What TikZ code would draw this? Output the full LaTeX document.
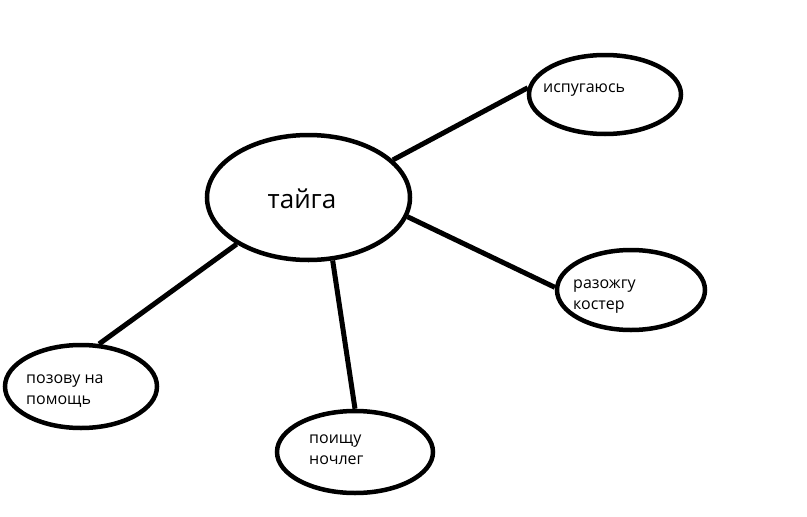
\documentclass[tikz,border=0pt]{standalone}
\usepackage{fontspec}
\setmainfont{Open Sans}
\usetikzlibrary{shapes.geometric}
\begin{document}
\begin{tikzpicture}[x=1pt,y=-1pt,
  bubble/.style={draw=black,line width=4.5pt,ellipse,inner sep=0pt,fill=white},
  conn/.style={draw=black,line width=5pt},
  lbl/.style={inner sep=0pt,anchor=base west,align=left,font=\fontsize{16}{21}\selectfont},
  big/.style={inner sep=0pt,font=\fontsize{26}{30}\selectfont}]
\useasboundingbox[fill=white] (0,0) rectangle (807,517);
\node[bubble,minimum width=203pt,minimum height=125pt] (taiga) at (308.5,197.5) {};
\node[bubble,minimum width=152pt,minimum height=79pt] (isp) at (605,94.5) {};
\node[bubble,minimum width=148pt,minimum height=80pt] (raz) at (631,290) {};
\node[bubble,minimum width=152pt,minimum height=83pt] (poz) at (81,386.5) {};
\node[bubble,minimum width=156pt,minimum height=82pt] (poi) at (355,452) {};
\draw[conn] (taiga.24.5) -- (isp.175);
\draw[conn] (taiga.-11) -- (raz.178.5);
\draw[conn] (taiga.213.6) -- (poz.67.8);
\draw[conn] (taiga.291.4) -- (poi.90);
\node[big] (t0) at (302,199) {тайга};
\node[lbl] (t1) at (543,92) {испугаюсь};
\node[lbl] (t2) at (573,309) {разожгу\\костер};
\node[lbl] (t3) at (26,404) {позову на\\помощь};
\node[lbl] (t4) at (309,464) {поищу\\ночлег};
\end{tikzpicture}
\end{document}
